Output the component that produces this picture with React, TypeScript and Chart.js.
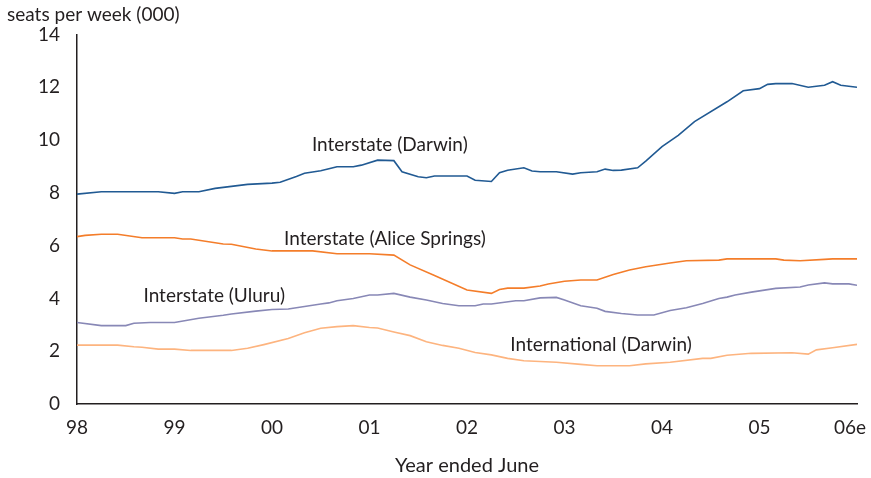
import React, { useEffect, useRef } from 'react';
import { Chart, registerables } from 'chart.js';

Chart.register(...registerables);

// x axis: months after June 1998 (year ended June)
const yearLabels = ['98', '99', '00', '01', '02', '03', '04', '05', '06e'];

const darwinMonths = [0, 3, 10, 12, 13, 15, 17, 21, 24, 25, 27, 28, 30, 32, 34, 35, 37, 39, 40, 42, 43, 44, 48, 49, 51, 52, 53, 55, 56, 57, 59, 61, 62, 64, 65, 66, 67, 69, 70, 72, 74, 76, 80, 82, 84, 85, 86, 88, 90, 92, 93, 94, 96];
const darwinSeats = [7.95, 8.04, 8.04, 7.98, 8.04, 8.04, 8.17, 8.32, 8.37, 8.4, 8.62, 8.74, 8.84, 8.99, 8.99, 9.05, 9.24, 9.22, 8.8, 8.61, 8.57, 8.64, 8.64, 8.48, 8.43, 8.76, 8.86, 8.95, 8.83, 8.8, 8.8, 8.71, 8.76, 8.8, 8.9, 8.85, 8.86, 8.95, 9.2, 9.75, 10.18, 10.7, 11.45, 11.87, 11.95, 12.11, 12.14, 12.14, 12.0, 12.08, 12.21, 12.08, 12.0];

const aliceMonths = [0, 1, 3, 5, 8, 12, 13, 14, 18, 19, 22, 24, 29, 32, 36, 39, 41, 44, 48, 51, 52, 53, 55, 57, 58, 60, 62, 64, 66, 68, 70, 73, 75, 79, 80, 86, 87, 89, 92, 93, 96];
const aliceSeats = [6.34, 6.39, 6.43, 6.43, 6.3, 6.3, 6.25, 6.25, 6.06, 6.05, 5.87, 5.8, 5.8, 5.69, 5.69, 5.64, 5.27, 4.87, 4.32, 4.19, 4.34, 4.39, 4.39, 4.47, 4.55, 4.65, 4.7, 4.7, 4.91, 5.08, 5.2, 5.34, 5.43, 5.45, 5.5, 5.5, 5.45, 5.43, 5.48, 5.5, 5.5];

const uluruMonths = [0, 3, 6, 7, 9, 12, 15, 18, 19, 22, 24, 26, 30, 31, 32, 34, 36, 37, 39, 41, 43, 45, 47, 49, 50, 51, 54, 55, 57, 59, 60, 62, 64, 65, 67, 69, 71, 73, 75, 77, 79, 80, 81, 83, 86, 89, 90, 92, 93, 95, 96];
const uluruSeats = [3.09, 2.97, 2.97, 3.06, 3.09, 3.09, 3.25, 3.36, 3.41, 3.52, 3.58, 3.6, 3.79, 3.83, 3.91, 4.0, 4.13, 4.13, 4.19, 4.05, 3.94, 3.81, 3.72, 3.72, 3.79, 3.79, 3.91, 3.91, 4.02, 4.04, 3.94, 3.72, 3.63, 3.51, 3.43, 3.37, 3.37, 3.54, 3.65, 3.81, 4.0, 4.05, 4.13, 4.24, 4.38, 4.43, 4.51, 4.59, 4.55, 4.55, 4.5];

const intlMonths = [0, 5, 7, 8, 10, 12, 14, 19, 21, 23, 26, 28, 30, 32, 34, 36, 37, 39, 41, 43, 45, 47, 49, 51, 53, 55, 59, 62, 64, 68, 70, 73, 77, 78, 80, 83, 88, 90, 91, 93, 96];
const intlSeats = [2.23, 2.23, 2.17, 2.15, 2.08, 2.08, 2.03, 2.03, 2.11, 2.25, 2.48, 2.7, 2.87, 2.93, 2.97, 2.9, 2.88, 2.73, 2.59, 2.36, 2.22, 2.11, 1.95, 1.86, 1.73, 1.64, 1.58, 1.5, 1.45, 1.45, 1.52, 1.58, 1.73, 1.73, 1.85, 1.92, 1.94, 1.89, 2.05, 2.13, 2.26];

const seriesNames = ['Interstate (Darwin)', 'Interstate (Alice Springs)', 'Interstate (Uluru)', 'International (Darwin)'];
const seriesColors = ['#215a93', '#f47d2a', '#8888b6', '#fdb47f'];
// label anchor points (month, value)
const labelMonths = [38.5, 37.9, 16.9, 64.5];
const labelValues = [9.81, 6.25, 4.09, 2.23];

const yAxisTitle = 'seats per week (000)';
const xAxisTitle = 'Year ended June';

const FONT = 'Lato, "Open Sans", sans-serif';
const TEXT = '#231f20';
const TICK_PAD = 12;
const TICK_SIZE = 19;

const toPoints = (ms: number[], vs: number[]) => ms.map((m, i) => ({ x: m, y: vs[i] }));

export default function App() {
  const ref = useRef<HTMLCanvasElement>(null);

  useEffect(() => {
    const labelPlugin = {
      id: 'seriesLabels',
      afterDatasetsDraw(chart: any) {
        const { ctx, scales } = chart;
        ctx.save();
        ctx.fillStyle = TEXT;
        ctx.font = `19px ${FONT}`;
        ctx.textAlign = 'center';
        ctx.textBaseline = 'middle';
        seriesNames.forEach((n, i) => {
          ctx.fillText(n, scales.x.getPixelForValue(labelMonths[i]), scales.y.getPixelForValue(labelValues[i]));
        });
        // last (estimate) year label, nudged inside the canvas
        const last = yearLabels.length - 1;
        ctx.font = `${TICK_SIZE}px ${FONT}`;
        ctx.fillText(
          yearLabels[last],
          scales.x.getPixelForValue(last * 12) - 7,
          scales.x.top + TICK_PAD + (TICK_SIZE * 1.2) / 2
        );
        ctx.textAlign = 'left';
        ctx.font = `19px ${FONT}`;
        ctx.fillText(yAxisTitle, 7, 15);
        ctx.restore();
      },
    };

    const datasets = [
      toPoints(darwinMonths, darwinSeats),
      toPoints(aliceMonths, aliceSeats),
      toPoints(uluruMonths, uluruSeats),
      toPoints(intlMonths, intlSeats),
    ].map((d, i) => ({
      label: seriesNames[i],
      data: d,
      borderColor: seriesColors[i],
      backgroundColor: seriesColors[i],
      borderWidth: 1.6,
      pointRadius: 0,
      tension: 0,
      fill: false,
    }));

    const chart = new Chart(ref.current!, {
      type: 'line',
      data: { datasets },
      options: {
        responsive: false,
        animation: false,
        layout: { padding: { top: 34.5, right: 0, left: 0, bottom: 0 } },
        plugins: { legend: { display: false }, tooltip: { enabled: false } },
        scales: {
          x: {
            type: 'linear',
            min: 0,
            max: 96,
            afterBuildTicks: (s: any) => {
              s.ticks = yearLabels.map((_, i) => ({ value: i * 12 }));
            },
            afterFit: (s: any) => {
              s.height = 74;
              s.paddingRight = 14;
              s.paddingLeft = 0;
            },
            ticks: {
              autoSkip: false,
              maxRotation: 0,
              padding: TICK_PAD,
              color: TEXT,
              font: { family: FONT, size: TICK_SIZE },
              callback: (v: any) => {
                const i = Math.round(Number(v) / 12);
                return i === yearLabels.length - 1 ? '' : yearLabels[i];
              },
            },
            grid: { display: false, drawTicks: false },
            border: { display: true, color: TEXT, width: 1.5 },
            title: {
              display: true,
              text: xAxisTitle,
              color: TEXT,
              font: { family: FONT, size: 20 },
              padding: { top: 0, bottom: 0 },
            },
          },
          y: {
            min: 0,
            max: 14,
            afterFit: (s: any) => {
              s.width = 77;
            },
            ticks: {
              stepSize: 2,
              padding: 17,
              color: TEXT,
              font: { family: FONT, size: TICK_SIZE },
            },
            grid: { display: false, drawTicks: false },
            border: { display: true, color: TEXT, width: 1.5 },
          },
        },
      },
      plugins: [labelPlugin],
    });
    return () => chart.destroy();
  }, []);

  return (
    <div style={{ position: 'absolute', left: 0, top: 0, width: 871, height: 478, background: '#fff' }}>
      <canvas ref={ref} width={871} height={478} style={{ display: 'block' }} />
    </div>
  );
}
